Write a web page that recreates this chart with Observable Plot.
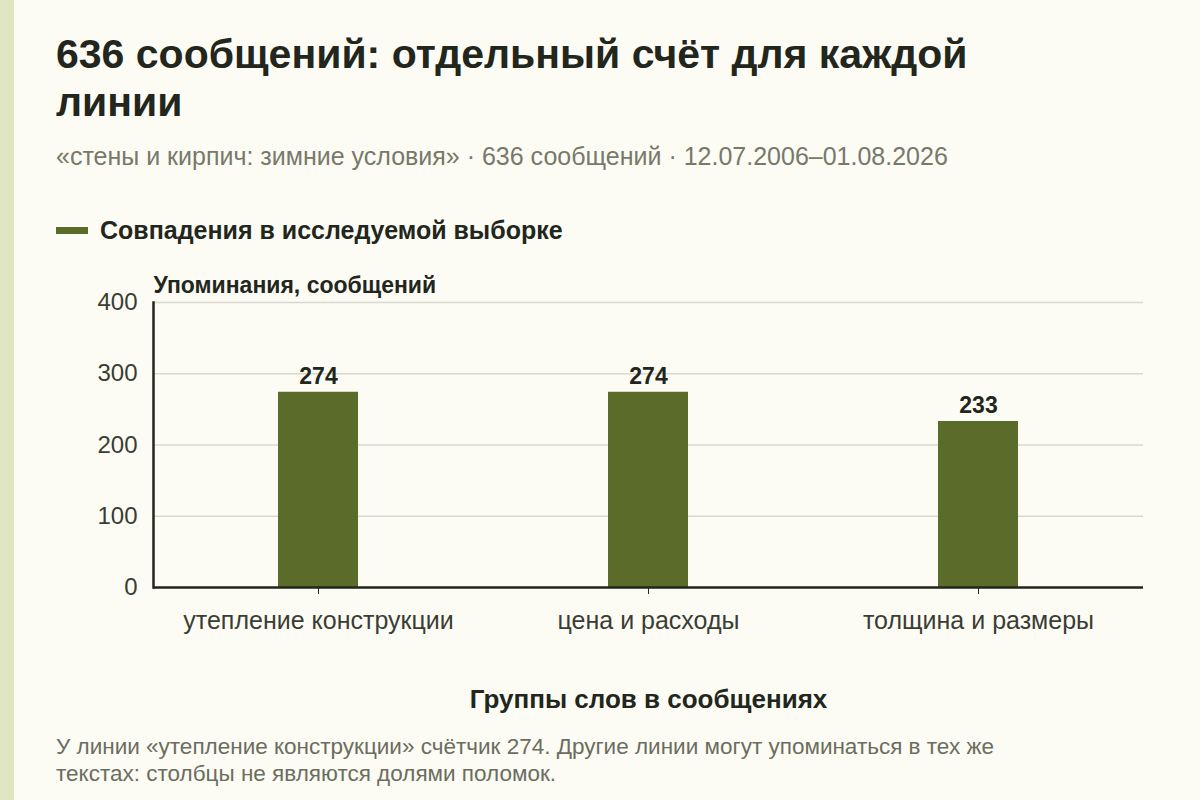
<!DOCTYPE html>
<html><head><meta charset="utf-8">
<script src="https://cdn.jsdelivr.net/npm/d3@7"></script>
<script src="https://cdn.jsdelivr.net/npm/@observablehq/plot@0.6"></script>
<style>
html,body{margin:0;padding:0;background:#fcfcf5;}
body{border-left:14px solid #e1e6c2;min-height:800px;box-sizing:border-box;font-family:"Liberation Sans",Arial,sans-serif;overflow:hidden;}
#wrap{padding-left:42px;padding-top:30px;}
h1{margin:0;font-size:41px;line-height:48px;font-weight:700;color:#22261c;width:1000px;}
.sub{margin-top:15px;font-size:25px;color:#77796a;line-height:30px;}
.legend{margin-top:44px;display:flex;align-items:center;font-size:25px;line-height:30px;font-weight:700;color:#22261c;}
.sw{width:32px;height:7px;background:#5b6b2a;margin-right:12px;}
#chart{margin-left:-56px;margin-top:10px;width:1200px;height:465px;}
#chart svg{max-width:none;display:block;}
.cap{font-size:22.5px;line-height:27px;color:#6b6d5e;margin-top:13px;width:1000px;}
</style></head>
<body><div id="wrap">
<h1>636 сообщений: отдельный счёт для каждой линии</h1>
<div class="sub">«стены и кирпич: зимние условия» · 636 сообщений · 12.07.2006–01.08.2026</div>
<div class="legend"><div class="sw"></div>Совпадения в исследуемой выборке</div>
<div id="chart"></div>
<div class="cap">У линии «утепление конструкции» счётчик 274. Другие линии могут упоминаться в тех же текстах: столбцы не являются долями поломок.</div>
</div>
<script>
const categories = ["утепление конструкции", "цена и расходы", "толщина и размеры"];
const counts = [274, 274, 233];
const yTicks = [0, 100, 200, 300, 400];
const data = categories.map((c, i) => ({group: c, value: counts[i]}));

const chart = Plot.plot({
  width: 1200,
  height: 465,
  marginLeft: 153,
  marginRight: 57,
  marginTop: 47,
  marginBottom: 133,
  style: {background: "transparent", fontFamily: "'Liberation Sans', Arial, sans-serif", fontSize: "24px", color: "#22261c"},
  x: {domain: categories, paddingInner: 0.758, paddingOuter: 0.379, label: null},
  y: {domain: [0, 400], ticks: yTicks, label: null},
  marks: [
    Plot.gridY(yTicks, {stroke: "#d8d8ce", strokeOpacity: 1, strokeWidth: 1.5}),
    Plot.barY(data, {x: "group", y: "value", fill: "#5b6b2a"}),
    Plot.text(data, {x: "group", y: "value", text: d => String(d.value), dy: -16, fontWeight: "bold", fontSize: 23, fill: "#22261c"}),
    Plot.axisY(yTicks, {tickSize: 0, tickPadding: 16, fontSize: 24, fill: "#3a3d33", label: null}),
    Plot.axisX({tickSize: 7, tickPadding: 17, fontSize: 25, fill: "#3a3d33", stroke: "#22261c", label: null}),
    Plot.ruleY([0], {stroke: "#22261c", strokeWidth: 2.5}),
    Plot.frame({anchor: "left", stroke: "#22261c", strokeWidth: 2.5}),
    Plot.text(["Упоминания, сообщений"], {frameAnchor: "top-left", lineAnchor: "middle", dy: -17, textAnchor: "start", fontWeight: "bold", fontSize: 23, fill: "#22261c"}),
    Plot.text(["Группы слов в сообщениях"], {frameAnchor: "bottom", lineAnchor: "middle", dy: 112, fontWeight: "bold", fontSize: 26, fill: "#22261c"})
  ]
});
document.getElementById("chart").appendChild(chart);
</script>
</body></html>
